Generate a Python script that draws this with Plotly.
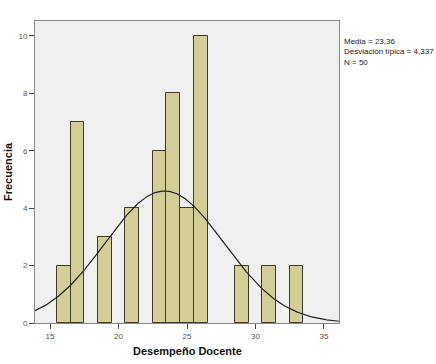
import numpy as np
import plotly.graph_objects as go

# Data
bin_centers = [16, 17, 19, 21, 23, 24, 25, 26, 29, 31, 33]
frequencies = [2, 7, 3, 4, 6, 8, 4, 10, 2, 2, 2]
mean_val = 23.36
std_val = 4.337
n_val = 50
bin_width = 1.0
x_ticks = [15, 20, 25, 30, 35]
y_ticks = [0, 2, 4, 6, 8, 10]

x_min, x_max = 13.9, 36.1

fig = go.Figure()
fig.add_trace(go.Bar(
    x=bin_centers, y=frequencies, width=bin_width,
    marker=dict(color="#d3ce98", line=dict(color="#3d3c2c", width=1)),
    hoverinfo="x+y", showlegend=False,
))

xs = np.linspace(x_min, x_max, 300)
ys = n_val * bin_width / (std_val * np.sqrt(2 * np.pi)) * np.exp(-0.5 * ((xs - mean_val) / std_val) ** 2)
fig.add_trace(go.Scatter(x=xs, y=ys, mode="lines",
                         line=dict(color="#222222", width=1.2), showlegend=False,
                         hoverinfo="skip"))

fig.update_layout(
    width=436, height=364,
    margin=dict(l=35, r=97, t=21, b=41),
    paper_bgcolor="white", plot_bgcolor="#f0f0f0",
    bargap=0,
    font=dict(family="Arial, Liberation Sans, sans-serif", color="#333333"),
    xaxis=dict(range=[x_min, x_max], tickvals=x_ticks, ticks="outside", ticklen=5,
               tickcolor="#444444", tickfont=dict(size=8, color="#555555"),
               showgrid=False, zeroline=False, showline=True, linecolor="#888888",
               linewidth=1, mirror=True, automargin=False),
    yaxis=dict(range=[0, 10.52], tickvals=y_ticks, ticks="outside", ticklen=5,
               tickcolor="#444444", tickfont=dict(size=8, color="#555555"),
               showgrid=False, zeroline=False, showline=True, linecolor="#888888",
               linewidth=1, mirror=True, automargin=False),
    annotations=[
        dict(
            x=1.0, y=1.0, xref="paper", yref="paper", xanchor="left", yanchor="top",
            xshift=3, yshift=-14, align="left", showarrow=False,
            text=f"Media = {mean_val:.2f}".replace(".", ",") + "<br>"
                 + f"Desviación típica = {std_val:.3f}".replace(".", ",") + "<br>"
                 + f"N = {n_val}",
            font=dict(size=8, color="#222222"),
        ),
        dict(x=0.5, y=0, xref="paper", yref="paper", xanchor="center", yanchor="middle",
             yshift=-28, showarrow=False, text="<b>Desempeño Docente</b>",
             font=dict(size=11, color="#111111")),
        dict(x=0, y=0.5, xref="paper", yref="paper", xanchor="center", yanchor="middle",
             xshift=-27, showarrow=False, textangle=-90, text="<b>Frecuencia</b>",
             font=dict(size=11, color="#111111")),
    ],
)

fig.write_html("out.html")
